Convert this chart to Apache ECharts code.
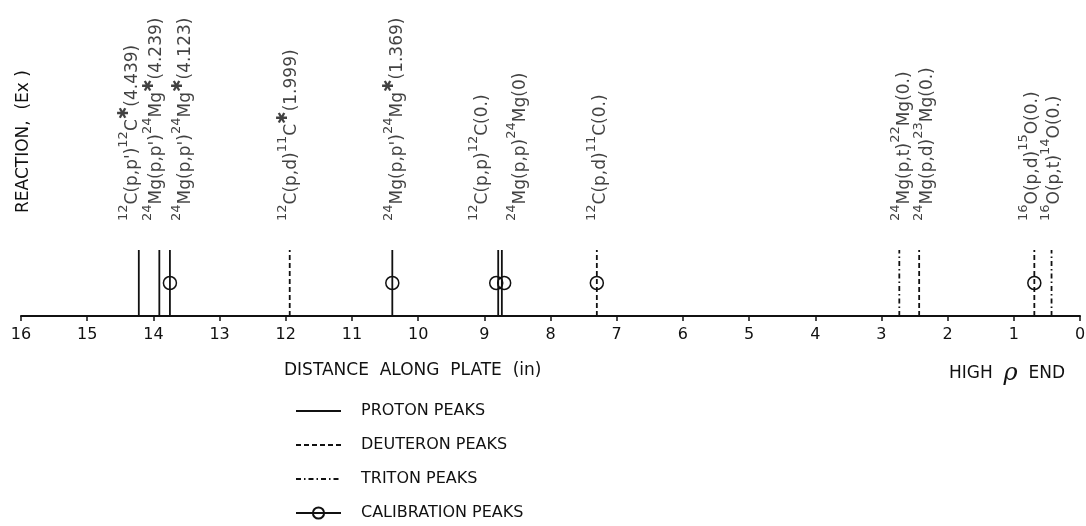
<!DOCTYPE html>
<html>
<head>
<meta charset="utf-8">
<title>Peaks along plate</title>
<script src="https://cdn.jsdelivr.net/npm/echarts@6/dist/echarts.min.js"></script>
<style>
html, body { margin: 0; background: #fff; }
#main { width: 1086px; height: 526px; }
</style>
</head>
<body>
<div id="main"></div>
<script>
// distance along plate (in)
var protonPeaks = [14.22, 13.91, 13.75, 10.39, 8.79, 8.735];
var deuteronPeaks = [11.94, 7.30, 2.43, 0.69];
var tritonPeaks = [2.73, 0.43];
var calibPeaks = [13.75, 10.39, 8.82, 8.70, 7.30, 0.69];
var calibLevel = 0.5;

// reaction labels ({s|..} = superscript) and where they stand on the axis
var reactions = [
    "{s|12}{b|C(p,p')}{s|12}{b|C}{t|✱}{b|(4.439)}",
    "{s|24}{b|Mg(p,p')}{s|24}{b|Mg}{t|✱}{b|(4.239)}",
    "{s|24}{b|Mg(p,p')}{s|24}{b|Mg}{t|✱}{b|(4.123)}",
    "{s|12}{b|C(p,d)}{s|11}{b|C}{t|✱}{b|(1.999)}",
    "{s|24}{b|Mg(p,p')}{s|24}{b|Mg}{t|✱}{b|(1.369)}",
    "{s|12}{b|C(p,p)}{s|12}{b|C(0.)}",
    "{s|24}{b|Mg(p,p)}{s|24}{b|Mg(0)}",
    "{s|12}{b|C(p,d)}{s|11}{b|C(0.)}",
    "{s|24}{b|Mg(p,t)}{s|22}{b|Mg(0.)}",
    "{s|24}{b|Mg(p,d)}{s|23}{b|Mg(0.)}",
    "{s|16}{b|O(p,d)}{s|15}{b|O(0.)}",
    "{s|16}{b|O(p,t)}{s|14}{b|O(0.)}"
];
var reactionAt = [14.37, 14.00, 13.56, 11.97, 10.37, 9.08, 8.50, 7.29, 2.71, 2.35, 0.77, 0.44];

var ink = '#111';
var font = 'DejaVu Sans';

// vertical stroke from the axis up to 1, broken between peaks
function sticks(list) {
    var out = [];
    list.forEach(function (x) {
        out.push([x, 0], [x, 1], [x, null]);
    });
    return out;
}

function peakSeries(name, list, dash) {
    return {
        name: name,
        type: 'line',
        data: sticks(list),
        symbol: 'circle',
        showSymbol: false,
        connectNulls: false,
        silent: true,
        lineStyle: { color: ink, width: 1.8, type: dash },
        // transparent so the legend shows the bare line
        itemStyle: { color: 'rgba(0,0,0,0)', borderWidth: 0 },
        z: 2
    };
}

var myChart = echarts.init(document.getElementById('main'), null, { renderer: 'canvas' });

var calibData = [];
calibPeaks.forEach(function (x) {
    calibData.push([x, calibLevel], [x, null]);
});

option = {
    animation: false,
    backgroundColor: '#fff',
    textStyle: { fontFamily: font, color: ink },
    grid: { left: 21, right: 6, top: 250, bottom: 210, containLabel: false, outerBoundsMode: 'none' },
    title: [
        {
            text: 'DISTANCE  ALONG  PLATE  (in)',
            left: 284, top: 362, padding: 0,
            textStyle: { fontFamily: font, fontSize: 17, fontWeight: 'normal', color: ink }
        },
        {
            text: 'HIGH  {r|ρ}  END',
            left: 949, top: 362, padding: 0,
            textStyle: {
                fontFamily: font, fontSize: 17, fontWeight: 'normal', color: ink,
                rich: { r: { fontFamily: 'DejaVu Serif', fontStyle: 'italic', fontSize: 24, color: ink } }
            }
        }
    ],
    graphic: [{
        type: 'text',
        x: 24, y: 213,
        rotation: Math.PI / 2,
        style: {
            text: 'REACTION,  (Ex )',
            font: '17px "DejaVu Sans"',
            fill: ink,
            align: 'left', verticalAlign: 'middle',
            textAlign: 'left', textVerticalAlign: 'middle'
        }
    }],
    legend: {
        orient: 'vertical',
        left: 295, top: 403,
        padding: 0,
        itemWidth: 45, itemHeight: 14, itemGap: 18,
        data: ['PROTON PEAKS', 'DEUTERON PEAKS', 'TRITON PEAKS', 'CALIBRATION PEAKS'],
        textStyle: { fontFamily: font, fontSize: 16, color: ink, padding: [0, 0, 0, 15] },
        selectedMode: false
    },
    xAxis: {
        type: 'value',
        min: 0, max: 16, interval: 1,
        inverse: true,
        axisLine: { onZero: false, lineStyle: { color: ink, width: 2 } },
        axisTick: { length: 5, lineStyle: { color: ink, width: 1.5 } },
        axisLabel: { fontFamily: font, fontSize: 16, color: ink, margin: 11 },
        splitLine: { show: false }
    },
    yAxis: { type: 'value', min: 0, max: 1, show: false },
    series: [
        peakSeries('PROTON PEAKS', protonPeaks, 'solid'),
        peakSeries('DEUTERON PEAKS', deuteronPeaks, [5, 3]),
        peakSeries('TRITON PEAKS', tritonPeaks, [5, 3, 1.5, 3]),
        {
            name: 'CALIBRATION PEAKS',
            type: 'line',
            data: calibData,
            connectNulls: false,
            symbol: 'circle',
            symbolSize: 13,
            showSymbol: true,
            silent: true,
            lineStyle: { color: ink, width: 1.8 },
            itemStyle: { color: 'rgba(0,0,0,0)', borderColor: ink, borderWidth: 1.5 },
            z: 3
        },
        {
            name: 'reactions',
            type: 'scatter',
            data: reactionAt.map(function (x) { return [x, 1]; }),
            symbolSize: 0,
            silent: true,
            label: {
                show: true,
                position: 'top',
                distance: 29,
                rotate: 90,
                align: 'left',
                verticalAlign: 'middle',
                formatter: function (p) { return reactions[p.dataIndex]; },
                rich: {
                    b: { fontFamily: font, fontSize: 17, lineHeight: 24, color: ink, verticalAlign: 'bottom' },
                    s: { fontFamily: font, fontSize: 13, lineHeight: 12, color: ink, verticalAlign: 'top', padding: [0, 0, 10, 0] },
                    t: { fontFamily: font, fontSize: 15, lineHeight: 14, color: ink, verticalAlign: 'top', padding: [0, 0, 8, 0] }
                }
            },
            z: 4
        }
    ]
};

myChart.setOption(option);
</script>
</body>
</html>
